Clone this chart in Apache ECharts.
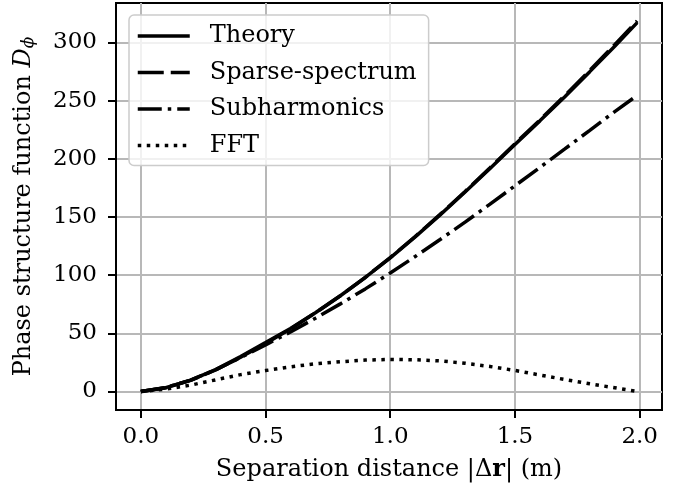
<!DOCTYPE html>
<html>
<head>
<meta charset="utf-8">
<script src="https://cdn.jsdelivr.net/npm/echarts@6/dist/echarts.min.js"></script>
<style>html,body{margin:0;padding:0;background:#fff;}#c{width:685px;height:489px;}</style>
</head>
<body>
<div id="c"></div>
<script>
const distance = [0,0.1,0.2,0.3,0.4,0.5,0.6,0.7,0.8,0.9,1.0,1.1,1.2,1.3,1.4,1.5,1.6,1.7,1.8,1.9,1.99];
const theory = [0,3.3,9.8,18.8,30.0,42.0,54.1,67.7,82.3,98.0,114.9,132.9,151.8,171.4,191.6,212.3,232.6,253.4,274.9,296.7,317];
const sparseSpectrum = [0,3.2,9.6,18.5,29.4,41.2,53.8,67.6,82.3,98.1,115.1,133.2,152.2,171.9,192.2,213.0,233.4,254.3,276.0,298.0,318.5];
const subharmonics = [0,3.3,9.8,18.7,29.2,40.0,51.2,63.0,75.3,88.2,101.8,116.0,130.6,145.6,161.0,176.8,192.6,208.5,224.5,240.6,254.5];
const fft = [0,2.0,5.5,10.0,14.5,18.0,21.2,23.8,25.6,27.0,27.6,27.3,26.3,24.3,21.5,18.1,14.2,10.3,6.6,3.2,0];
const xTicks = [0,0.5,1.0,1.5,2.0];
const yTicks = [0,50,100,150,200,250,300];
const seriesNames = ['Theory','Sparse-spectrum','Subharmonics','FFT'];

const FONT = 'DejaVu Serif';
const pair = (ys) => distance.map((x,i)=>[x, ys[i]]);
const dashes = ['solid',[26,7],[24,6,3.5,6],[3.5,5.5]];
const datas = [theory, sparseSpectrum, subharmonics, fft];

const chart = echarts.init(document.getElementById('c'), null, {renderer:'canvas'});
chart.setOption({
  animation:false,
  backgroundColor:'#fff',
  grid:{left:116, right:23, top:3, bottom:79, show:true, borderColor:'#000', borderWidth:2, backgroundColor:'transparent'},
  xAxis:{
    type:'value', min:-0.0995, max:2.0895,
    name:'Separation distance |Δ{b|r}| (m)', nameLocation:'middle', nameGap:48,
    nameTextStyle:{fontFamily:FONT, fontSize:24, color:'#000', rich:{b:{fontFamily:FONT, fontSize:24, fontWeight:'bold', color:'#000'}}},
    axisLine:{show:true, onZero:false, lineStyle:{color:'#000', width:2}},
    axisTick:{show:true, length:8, lineStyle:{color:'#000', width:2}, customValues:xTicks},
    axisLabel:{fontFamily:FONT, fontSize:23, color:'#000', margin:16, customValues:xTicks, formatter:(v)=>v.toFixed(1)},
    splitLine:{show:true, lineStyle:{color:'#b8b8b8', width:2}}
  },
  yAxis:{
    type:'value', min:-15.9, max:333.9,
    name:'Phase structure function {i|D}{s|ϕ}', nameLocation:'middle', nameGap:79, nameRotate:90,
    nameTextStyle:{fontFamily:FONT, fontSize:24, color:'#000', rich:{
      i:{fontFamily:FONT, fontSize:24, fontStyle:'italic', color:'#000'},
      s:{fontFamily:FONT, fontSize:17, fontStyle:'italic', color:'#000', padding:[10,0,0,0]}}},
    axisLine:{show:true, onZero:false, lineStyle:{color:'#000', width:2}},
    axisTick:{show:true, length:8, lineStyle:{color:'#000', width:2}, customValues:yTicks},
    axisLabel:{fontFamily:FONT, fontSize:23, color:'#000', margin:19, customValues:yTicks},
    splitLine:{show:true, lineStyle:{color:'#b8b8b8', width:2}}
  },
  legend:{
    orient:'vertical', left:129, top:15,
    data:seriesNames,
    itemWidth:52, itemHeight:14, itemGap:12.5,
    padding:[9,12,8,7],
    itemStyle:{opacity:0},
    lineStyle:{width:3.5},
    backgroundColor:'rgba(255,255,255,0.8)', borderColor:'#cccccc', borderWidth:1.5, borderRadius:5,
    textStyle:{fontFamily:FONT, fontSize:24, color:'#000', padding:[0,0,0,15]},
    selectedMode:false
  },
  series: seriesNames.map((n,k)=>({
    name:n, type:'line', data:pair(datas[k]), showSymbol:false, symbol:'none', smooth:false,
    lineStyle:{color:'#000', width:3.5, type:dashes[k], cap:'butt'},
    itemStyle:{color:'#000'},
    z: 2+k
  }))
});
</script>
</body>
</html>
